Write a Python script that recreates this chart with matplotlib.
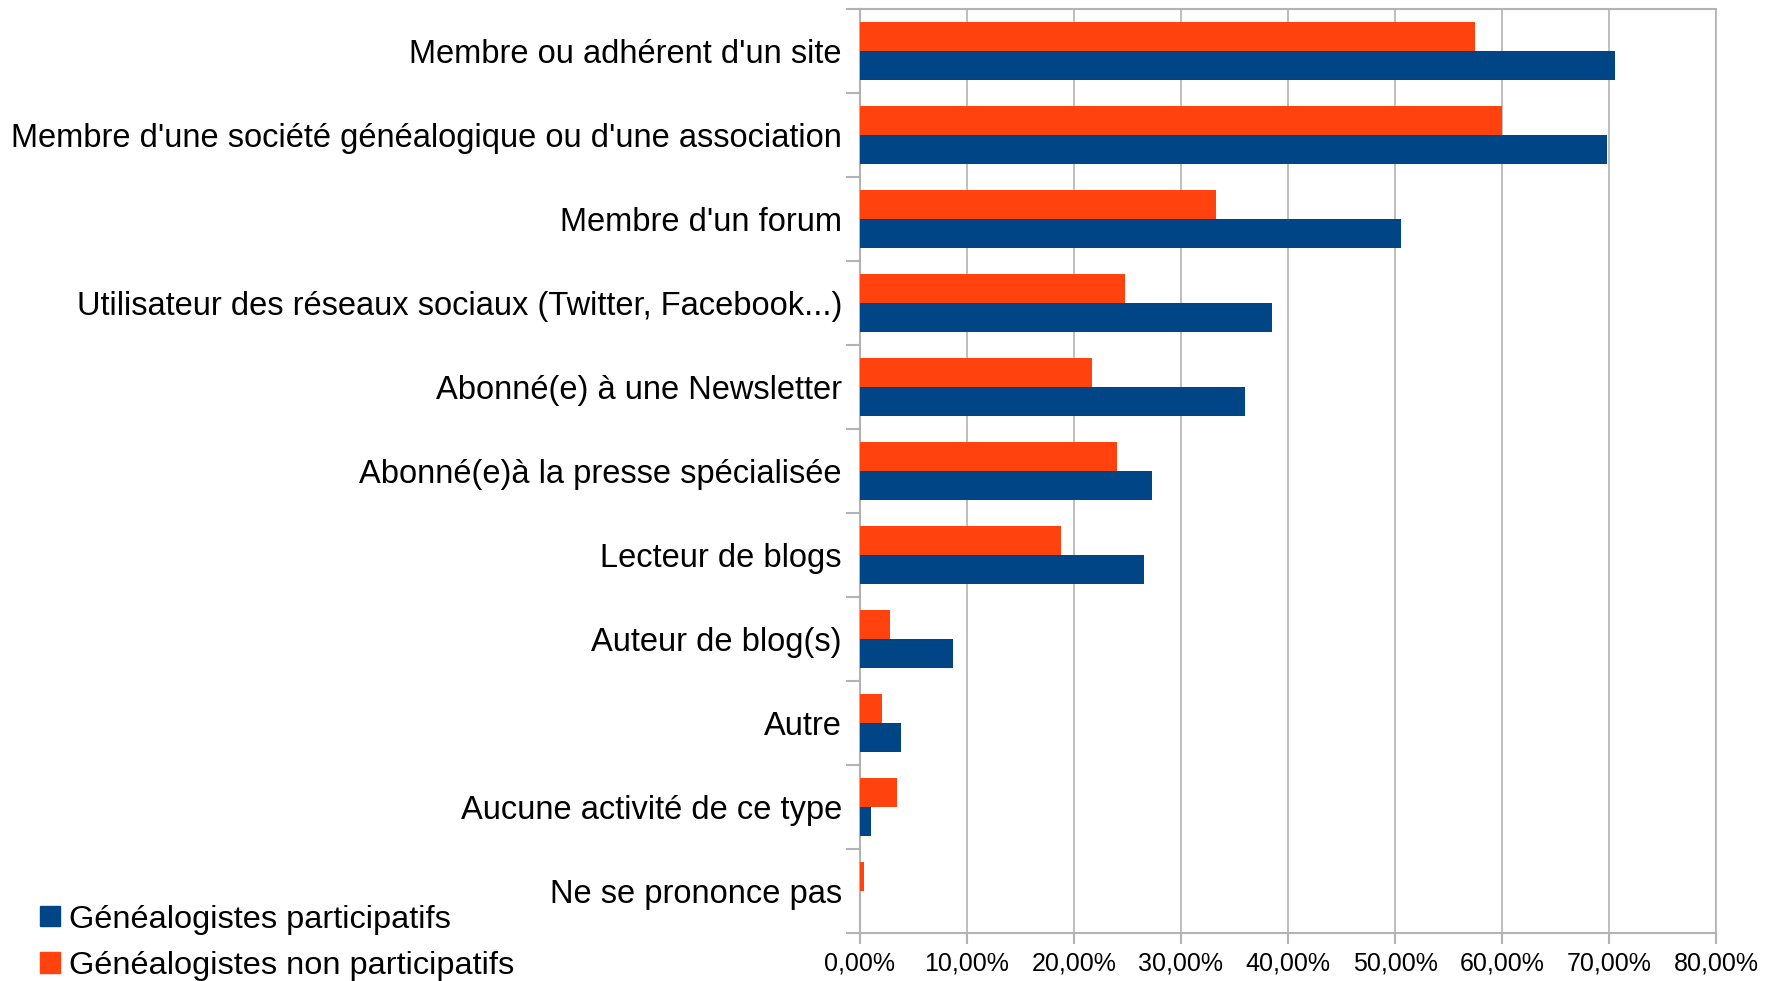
#!/usr/bin/env python3
"""Activités en ligne des généalogistes - barres horizontales groupées."""

import matplotlib
matplotlib.use("Agg")
import matplotlib.pyplot as plt
import numpy as np
from matplotlib.patches import Patch
from matplotlib.ticker import FuncFormatter, MultipleLocator

plt.rcParams['font.family'] = ['Liberation Sans', 'DejaVu Sans']

# ── Données (en %) ───────────────────────────────────────────────
categories = [
    "Membre ou adhérent d'un site",
    "Membre d'une société généalogique ou d'une association",
    "Membre d'un forum",
    "Utilisateur des réseaux sociaux (Twitter, Facebook...)",
    "Abonné(e) à une Newsletter",
    "Abonné(e)à la presse spécialisée",
    "Lecteur de blogs",
    "Auteur de blog(s)",
    "Autre",
    "Aucune activité de ce type",
    "Ne se prononce pas",
]
participatifs     = [70.6, 69.8, 50.6, 38.5, 36.0, 27.3, 26.5, 8.7, 3.8, 1.0, 0.0]
non_participatifs = [57.5, 60.0, 33.3, 24.8, 21.7, 24.0, 18.8, 2.8, 2.1, 3.5, 0.35]
series_names = ["Généalogistes participatifs", "Généalogistes non participatifs"]

BLUE   = '#004586'
ORANGE = '#ff420e'
GRID   = '#b3b3b3'

fig = plt.figure(figsize=(17.79, 9.81), dpi=100)
ax = fig.add_axes([0.4834, 0.0489, 0.4812, 0.9419])

y = np.arange(len(categories))
h = 0.34
ax.barh(y - h / 2, non_participatifs, height=h, color=ORANGE, zorder=3)
ax.barh(y + h / 2, participatifs, height=h, color=BLUE, zorder=3)

ax.set_ylim(len(categories) - 0.5, -0.5)
ax.set_xlim(0, 80)

# y : étiquettes au centre, petites graduations aux limites
ax.set_yticks(y)
ax.set_yticklabels(categories, fontsize=23.5)
ax.set_yticks(np.arange(len(categories) + 1) - 0.5, minor=True)
ax.tick_params(axis='y', which='major', length=0, pad=13)
ax.tick_params(axis='y', which='minor', length=10, width=1.5, color=GRID)

# x : pourcentages avec virgule
ax.xaxis.set_major_locator(MultipleLocator(10))
ax.xaxis.set_major_formatter(FuncFormatter(lambda v, _: f"{v:.2f}%".replace('.', ',')))
ax.tick_params(axis='x', which='major', length=8, width=1.5, color=GRID,
               labelsize=18, pad=5)

ax.grid(axis='x', color=GRID, linewidth=1.2, zorder=0)
for side in ['left', 'bottom', 'top', 'right']:
    ax.spines[side].set_color(GRID)
    ax.spines[side].set_linewidth(1.5)
ax.spines['right'].set_linewidth(1.2)

handles = [Patch(color=BLUE), Patch(color=ORANGE)]
fig.legend(handles, series_names, loc='lower left', bbox_to_anchor=(0.0152, -0.013),
           frameon=False, fontsize=23.4, handlelength=0.6, handleheight=0.6,
           handletextpad=0.28, labelspacing=0.5, borderaxespad=0)

fig.savefig('out.png', dpi=100)
